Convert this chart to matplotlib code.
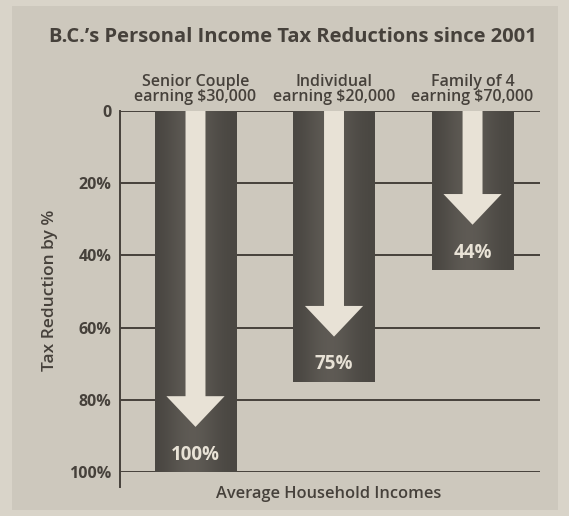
import numpy as np
import matplotlib.pyplot as plt
from matplotlib.colors import LinearSegmentedColormap
from matplotlib.patches import Polygon, Rectangle

# data
categories = ['Senior Couple\nearning $30,000',
              'Individual\nearning $20,000',
              'Family of 4\nearning $70,000']
reductions = [100, 75, 44]
value_labels = ['100%', '75%', '44%']
tick_values = [0, 20, 40, 60, 80, 100]
tick_labels = ['0', '20%', '40%', '60%', '80%', '100%']

ink = '#46413b'
paper = '#cdc8bd'
bar_dark = '#4a4742'
bar_light = '#605c56'
arrow_col = '#e8e2d6'

plt.rcParams['font.family'] = ['Open Sans', 'DejaVu Sans']

fig = plt.figure(figsize=(5.69, 5.16), dpi=100)
fig.patch.set_facecolor('#d9d4c9')
# slightly darker printed panel
fig.patches.append(Rectangle((12 / 569, 6 / 516), 546 / 569, 504 / 516,
                             transform=fig.transFigure, facecolor=paper,
                             edgecolor='none', zorder=-10))

ax = fig.add_axes([120 / 569, 1 - 472 / 516, 420 / 569, 361 / 516])
ax.set_facecolor('none')
ax.set_zorder(5)

x = np.arange(len(categories))
xmin, xmax = -0.545, 2.487
bar_w = 0.585
shaft_w = 0.144
head_w = 0.42
head_h = 8.5
tip_gap = 12.5

# grid lines behind the bars
ax.hlines(tick_values, xmin, xmax, color=ink, lw=1.4, zorder=1)
# left axis line runs a little past 100%
ax.plot([xmin, xmin], [0, 104.2], color=ink, lw=1.4, clip_on=False, zorder=1)

bar_cmap = LinearSegmentedColormap.from_list('bar', [bar_dark, bar_light])
shade = np.array([[0.0, 0.6, 1.0, 0.85, 0.3, 0.0]])
for xi, val, lab in zip(x, reductions, value_labels):
    ax.imshow(shade, extent=[xi - bar_w / 2, xi + bar_w / 2, val, 0],
              cmap=bar_cmap, aspect='auto', interpolation='bicubic', zorder=2)
    tip = val - tip_gap
    top = tip - head_h
    pts = [(xi - shaft_w / 2, 0), (xi + shaft_w / 2, 0),
           (xi + shaft_w / 2, top), (xi + head_w / 2, top),
           (xi, tip), (xi - head_w / 2, top), (xi - shaft_w / 2, top)]
    ax.add_patch(Polygon(pts, closed=True, facecolor=arrow_col,
                         edgecolor='none', zorder=3))
    ax.text(xi, val - 4.8, lab, ha='center', va='center', color=arrow_col,
            fontsize=13.5, fontweight='bold', zorder=4)
    ax.text(xi, -1.6, categories[xi], ha='center', va='bottom', color=ink,
            fontsize=11.5, fontweight='semibold', linespacing=0.9)

ax.set_xlim(xmin, xmax)
ax.set_ylim(100, 0)
ax.set_xticks([])
ax.set_yticks(tick_values)
ax.set_yticklabels(tick_labels, fontsize=11.5, fontweight='bold', color=ink)
ax.tick_params(axis='y', length=0, pad=6)
for s in ax.spines.values():
    s.set_visible(False)

fig.text(50 / 569, 1 - 290 / 516, 'Tax Reduction by %', rotation=90,
         ha='center', va='center', fontsize=12.5, fontweight='semibold', color=ink)
fig.text(329 / 569, 1 - 494 / 516, 'Average Household Incomes', ha='center',
         va='center', fontsize=11.8, fontweight='semibold', color=ink)
fig.text(293 / 569, 1 - 37 / 516, 'B.C.\u2019s Personal Income Tax Reductions since 2001',
         ha='center', va='center', fontsize=14.5, fontweight='bold', color=ink)

fig.savefig('out.png', dpi=100, facecolor=fig.get_facecolor())
